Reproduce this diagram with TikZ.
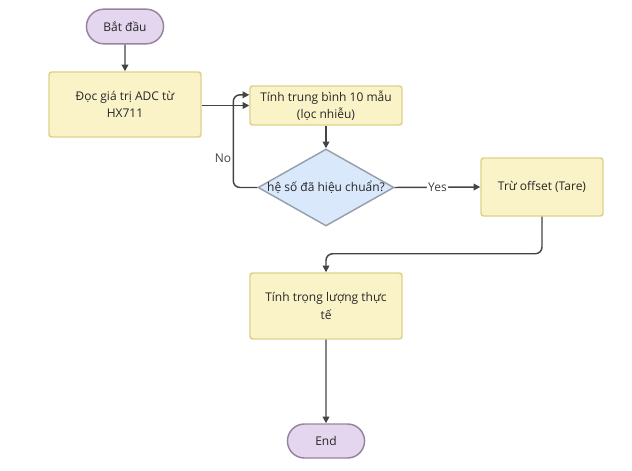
\documentclass[tikz,border=0pt]{standalone}
\usepackage{fontspec}
\setmainfont{Open Sans}
\usetikzlibrary{arrows.meta,shapes.geometric,shapes.misc}

\definecolor{boxfill}{RGB}{251,243,200}
\definecolor{boxdraw}{RGB}{222,208,140}
\definecolor{termfill}{RGB}{228,214,238}
\definecolor{termdraw}{RGB}{150,132,158}
\definecolor{decfill}{RGB}{218,232,252}
\definecolor{decdraw}{RGB}{150,160,172}
\definecolor{linkcol}{RGB}{68,68,68}

\tikzset{every picture/.style={line width=0.75pt},
  procbox/.style={draw=boxdraw, fill=boxfill, line width=1.1pt, rounded corners=2pt, align=center, font=\fontsize{9}{13}\selectfont, text=black!85},
  termbox/.style={draw=termdraw, fill=termfill, line width=1.1pt, rounded rectangle, align=center, font=\fontsize{9}{13}\selectfont, text=black!85},
  decbox/.style={draw=decdraw, fill=decfill, line width=1.1pt, diamond, aspect=1.77, inner sep=0pt, font=\fontsize{9}{13}\selectfont, text=black!85},
  link/.style={draw=linkcol, line width=1.1pt, rounded corners=5pt, -{Triangle[length=5pt,width=5pt]}},
  linklabel/.style={font=\fontsize{9}{11}\selectfont, text=black!75}
}

\begin{document}
\begin{tikzpicture}[x=0.75pt,y=0.75pt,yscale=-1,xscale=1]
\useasboundingbox (0,0) rectangle (632,471);

%Flowchart: Terminator
\node [termbox, minimum width=64.5pt, minimum height=26pt] (start) at (125,26.5) {Bắt đầu};
%Flowchart: Process
\node [procbox, minimum width=114pt, minimum height=48.75pt] (read) at (125,104.5) {Đọc giá trị ADC từ\\HX711};
%Flowchart: Process
\node [procbox, minimum width=114pt, minimum height=29.25pt] (avg) at (326,105.5) {Tính trung bình 10 mẫu\\(lọc nhiễu)};
%Flowchart: Decision
\node [decbox, minimum width=102pt, minimum height=57.75pt] (calib) at (326,187.5) {\makebox[0pt]{hệ số đã hiệu chuẩn?}};
%Flowchart: Process
\node [procbox, minimum width=91.5pt, minimum height=43.5pt] (tare) at (542,187) {Trừ offset (Tare)};
%Flowchart: Process
\node [procbox, minimum width=114pt, minimum height=49.5pt] (weight) at (326,306) {Tính trọng lượng thực\\tế};
%Flowchart: Terminator
\node [termbox, minimum width=64.5pt, minimum height=25.5pt] (stop) at (326,441) {End};

%Links
\draw [link] (start) -- (read);
\draw [link] (read.east |- avg.west) -- (avg.west);
\draw [link] (avg) -- (calib);
\draw [link] (calib.west) -- ++(-24,0) |- node[linklabel, pos=0.16, left=0pt, inner sep=1pt] {No} ([yshift=-8pt]avg.west);
\draw [link] (calib.east) -- node[linklabel, fill=white, inner sep=1pt] {Yes} (tare.west);
\draw [link] (tare.south) -- ++(0,37) -| (weight.north);
\draw [link] (weight) -- (stop);

\end{tikzpicture}
\end{document}
